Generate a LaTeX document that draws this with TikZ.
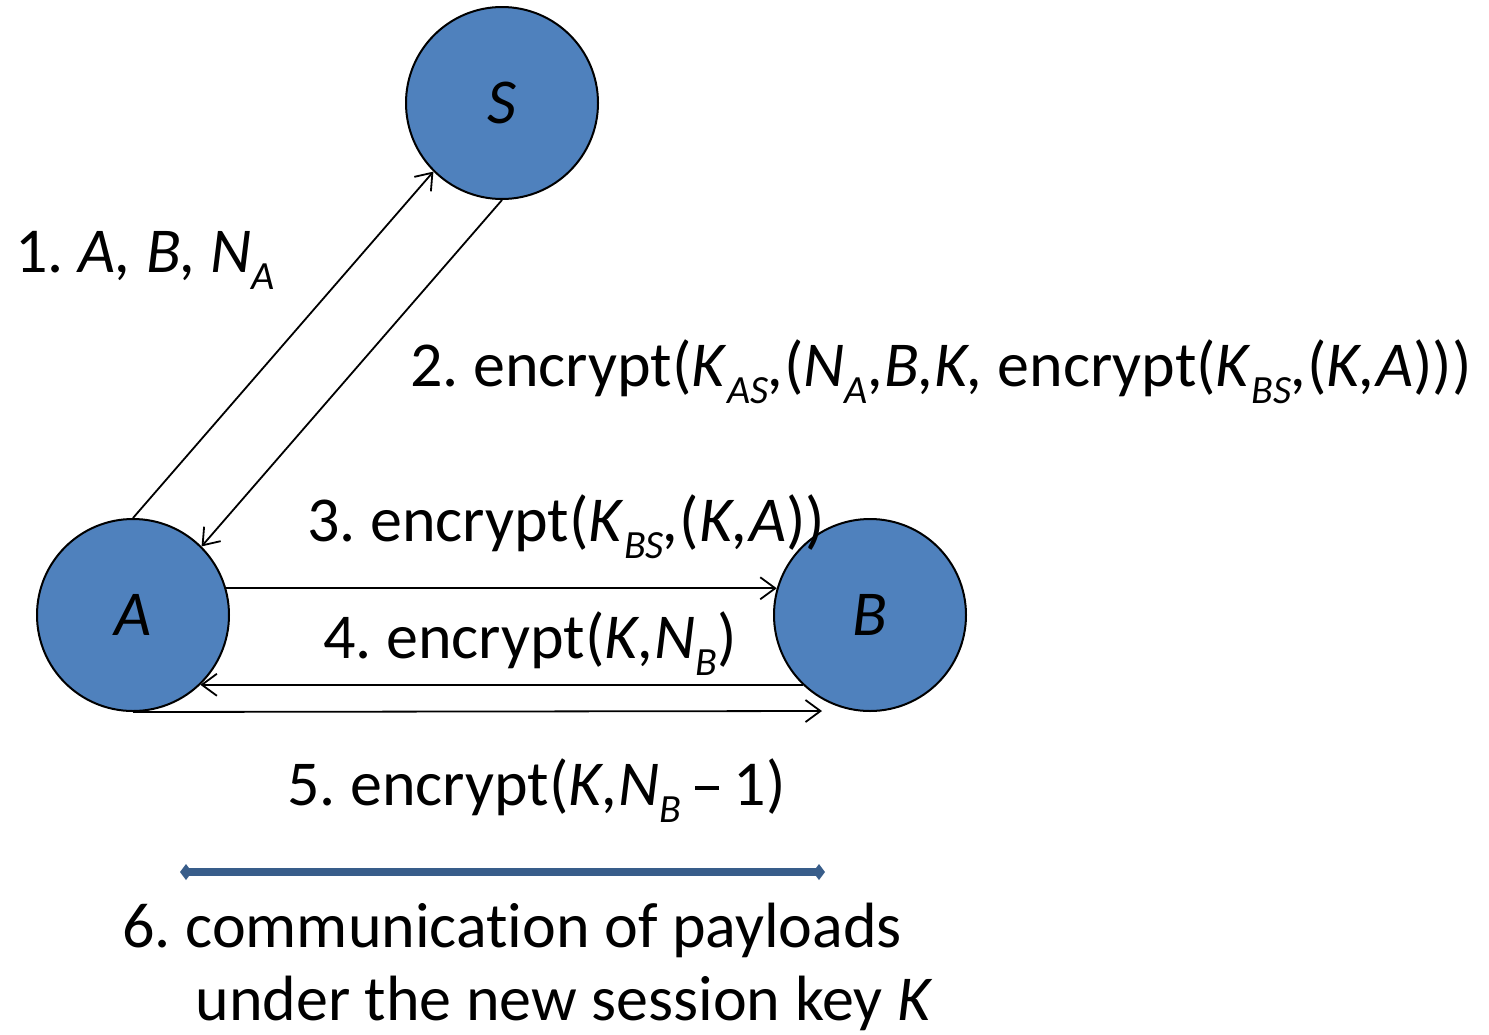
\documentclass[tikz,border=0pt]{standalone}
\usepackage{fontspec}
\setmainfont{Carlito}[Ligatures=NoCommon]
\usetikzlibrary{arrows.meta}
\definecolor{partyblue}{HTML}{4F81BD}
\definecolor{linkblue}{HTML}{385D8A}
\frenchspacing
\newcommand{\lo}[1]{\raisebox{-0.28em}{\fontsize{20}{22}\selectfont\itshape #1}}
\newcommand{\mdash}{\rule[0.24em]{12pt}{1.8pt}}
\tikzset{
  party/.style={circle, draw=black, line width=1pt, fill=partyblue, minimum size=96pt, inner sep=0pt, font=\fontsize{32}{38}\selectfont\itshape},
  msg/.style={anchor=base west, inner sep=0pt, font=\fontsize{32}{36.5}\selectfont},
  arr/.style={-{Straight Barb[length=7.5pt, width=11pt]}, line width=0.9pt, draw=black},
  link/.style={{Diamond[length=6pt, width=8pt]}-{Diamond[length=6pt, width=8pt]}, line width=4pt, draw=linkblue}
}
\begin{document}
\begin{tikzpicture}[x=0.5pt, y=-0.5pt]
  \useasboundingbox (0,0) rectangle (1489,1034);
  \node[party] (S) at (502,103) {S};
  \node[party] (A) at (133,615) {A};
  \node[party] (B) at (870,615) {B};

  % protocol messages
  \draw[arr] (A.north) -- (S.225);
  \draw[arr] (S.south) -- (A.45);
  \draw[arr] (A.16) -- (B.164);
  \draw[arr] (B.226) -- (A.-46);
  \coordinate (m5) at (822,711);
  \draw[arr] (A.south) -- (m5);

  \node[msg] (l1) at (15,272) {1. \textit{A, B, N}\lo{A}};
  \node[msg] (l2) at (410,386) {2. encrypt(\textit{K}\lo{AS}\textit{,}(\textit{N}\lo{A}\textit{,B,K,} encrypt(\textit{K}\lo{BS}\textit{,}(\textit{K,A})))};
  \node[msg] (l3) at (307,541) {3. encrypt(\textit{K}\lo{BS}\textit{,}(\textit{K,A}))};
  \node[msg] (l4) at (323,658) {4. encrypt(\textit{K,N}\lo{B})};
  \node[msg] (l5) at (287,805) {5. encrypt(\textit{K,N}\lo{B} \mdash{} 1)};

  % payload channel
  \coordinate (c6a) at (180,872);
  \coordinate (c6b) at (825,872);
  \draw[link] (c6a) -- (c6b);
  \node[msg, align=left] (l6) at (122,1020) {6. communication of payloads\\\hspace*{36.5pt}under the new session key \textit{K}};
\end{tikzpicture}
\end{document}
